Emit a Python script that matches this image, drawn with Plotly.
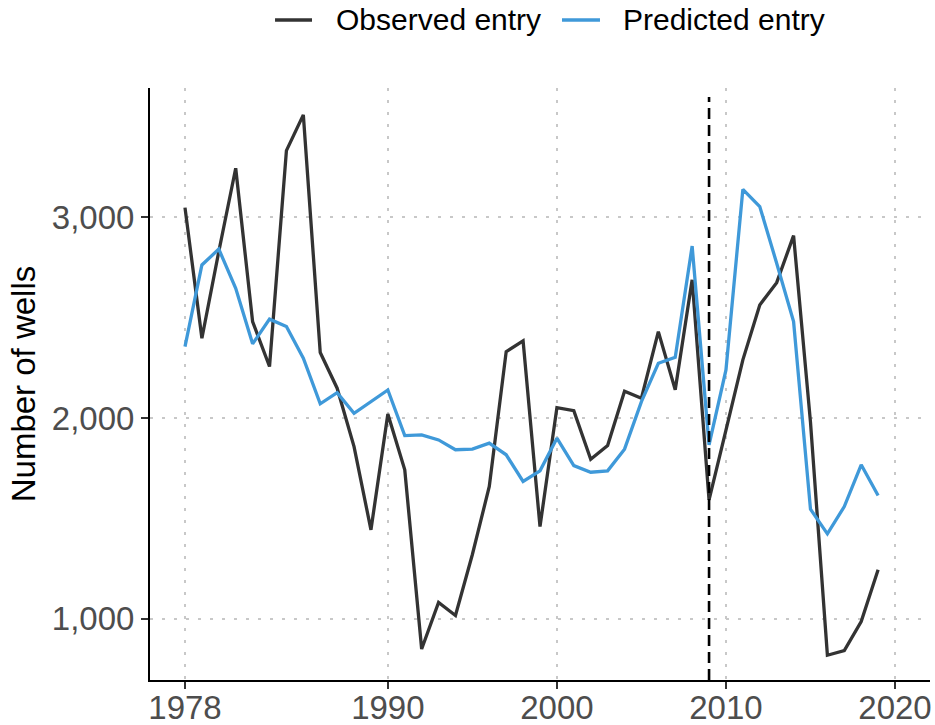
import plotly.graph_objects as go

# Annual well entry, observed vs. model-predicted
years = list(range(1978, 2020))
observed = [3049, 2398, 2830, 3245, 2481, 2257, 3333, 3511, 2327, 2149,
            1858, 1443, 2020, 1742, 849, 1081, 1016, 1320, 1659, 2331,
            2385, 1459, 2052, 2037, 1795, 1863, 2134, 2099, 2431, 2141,
            2689, 1592, 1940, 2290, 2564, 2675, 2909, 1980, 818, 841,
            986, 1244]
predicted = [2356, 2763, 2842, 2647, 2370, 2493, 2456, 2298, 2071, 2127,
             2024, 2082, 2140, 1913, 1916, 1891, 1842, 1845, 1875, 1817,
             1684, 1737, 1900, 1763, 1730, 1737, 1845, 2082, 2273, 2303,
             2857, 1866, 2240, 3140, 3054, 2772, 2481, 1546, 1423, 1559,
             1767, 1614]
event_year = 2009

x_ticks = [1978, 1990, 2000, 2010, 2020]
y_ticks = [1000, 2000, 3000]
y_ticktext = ["1,000", "2,000", "3,000"]

series = [
    ("Observed entry", observed, "#333333"),
    ("Predicted entry", predicted, "#3f99d9"),
]

FONT = "Liberation Sans, Arial"

fig = go.Figure()
for name, values, color in series:
    fig.add_trace(go.Scatter(x=years, y=values, mode="lines", name=name,
                             showlegend=False, line=dict(color=color, width=3.3)))

# vertical marker at the event year
fig.add_shape(type="line", xref="x", yref="paper", x0=event_year, x1=event_year,
              y0=0, y1=0.985, line=dict(color="black", width=2.6, dash="11px,6px"))

# horizontal key above the panel
key_line_x = [(0.1603, 0.2077), (0.5282, 0.5769)]
key_text_x = [0.2359, 0.6038]
key_y = 1.1149
for (name, _, color), (lx0, lx1), tx in zip(series, key_line_x, key_text_x):
    fig.add_shape(type="line", xref="paper", yref="paper", x0=lx0, x1=lx1,
                  y0=key_y, y1=key_y, line=dict(color=color, width=3.3))
    fig.add_annotation(xref="paper", yref="paper", x=tx, y=key_y, text=name,
                       showarrow=False, xanchor="left", yanchor="middle",
                       font=dict(family=FONT, size=30, color="black"))

axis_common = dict(
    showline=True, linecolor="black", linewidth=2,
    ticks="outside", ticklen=7, tickwidth=2, tickcolor="#333333",
    tickfont=dict(family=FONT, size=33, color="#4d4d4d"),
    showgrid=True, gridcolor="#c8c8c8", gridwidth=2, griddash="3px,9px",
    zeroline=False, mirror=False, automargin=False,
)

fig.update_xaxes(range=[1975.93, 2022.07], tickvals=x_ticks,
                 ticklabelstandoff=-10, **axis_common)
fig.update_yaxes(range=[694.6, 3645], tickvals=y_ticks, ticktext=y_ticktext,
                 title=dict(text="Number of wells", standoff=6,
                            font=dict(family=FONT, size=33, color="black")),
                 **axis_common)

fig.update_layout(
    width=935, height=725,
    margin=dict(l=150, r=5, t=88, b=45),
    plot_bgcolor="white", paper_bgcolor="white",
    font=dict(family=FONT),
    showlegend=False,
)

fig.write_html("out.html")
